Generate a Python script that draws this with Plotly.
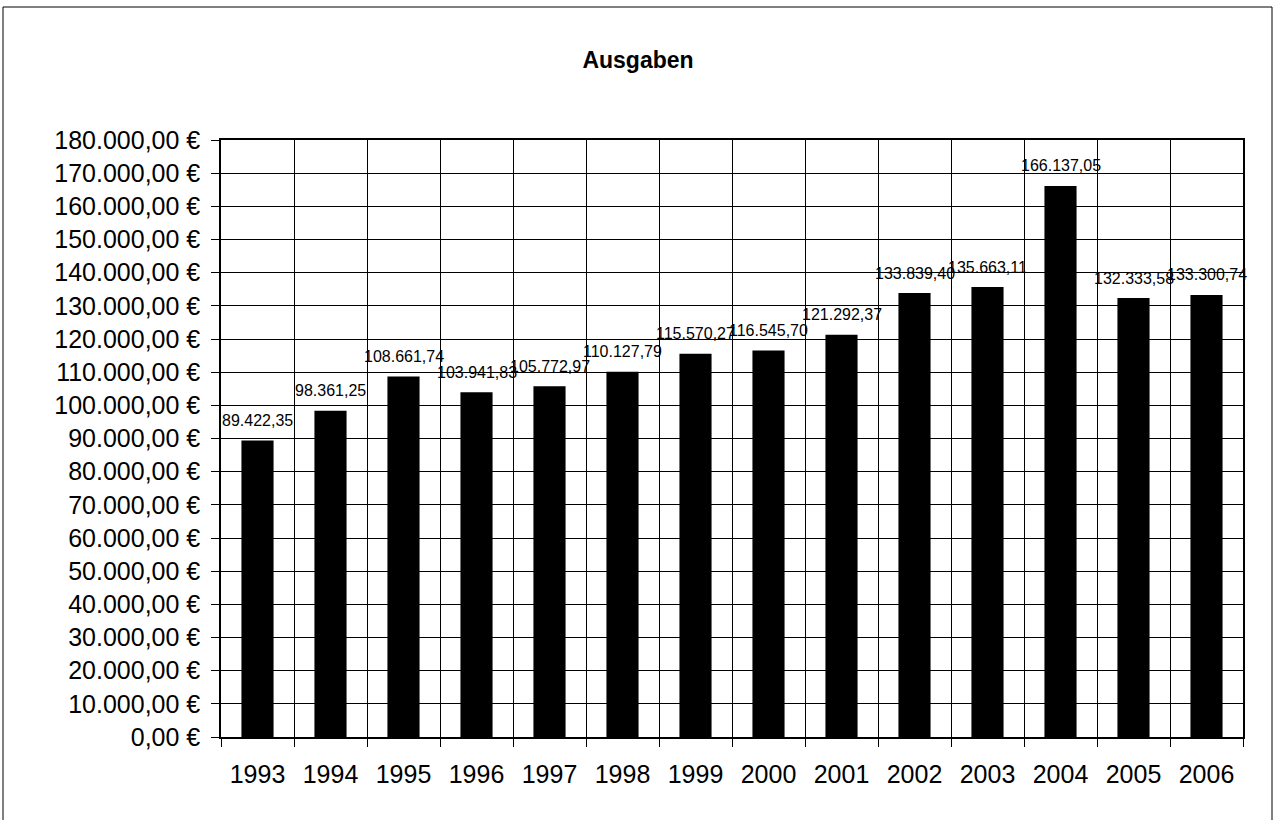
import plotly.graph_objects as go

years = ["1993", "1994", "1995", "1996", "1997", "1998", "1999",
         "2000", "2001", "2002", "2003", "2004", "2005", "2006"]
ausgaben = [89422.35, 98361.25, 108661.74, 103941.83, 105772.97, 110127.79,
            115570.27, 116545.70, 121292.37, 133839.40, 135663.11, 166137.05,
            132333.58, 133300.74]
labels = ["89.422,35", "98.361,25", "108.661,74", "103.941,83", "105.772,97",
          "110.127,79", "115.570,27", "116.545,70", "121.292,37", "133.839,40",
          "135.663,11", "166.137,05", "132.333,58", "133.300,74"]

W, H = 1276, 823
L, R, T, B = 221, 33, 140, 86

fig = go.Figure()
fig.add_trace(go.Bar(x=years, y=ausgaben, marker=dict(color="black", line=dict(width=0)),
                     hoverinfo="x+y"))

for i, (y, t) in enumerate(zip(ausgaben, labels)):
    fig.add_annotation(x=i, y=y, text=t, showarrow=False, yanchor="middle",
                       yshift=20, font=dict(family="Liberation Sans, Arial", size=16, color="black"))

pw = W - L - R
ph = H - T - B
def px(xp):
    return (xp - L) / pw
def py(yp):
    return (H - B - yp) / ph

frame = dict(color="black", width=1)
fig.add_shape(type="line", xref="paper", yref="paper", x0=px(3), x1=px(1272), y0=py(7), y1=py(7), line=frame)
fig.add_shape(type="line", xref="paper", yref="paper", x0=px(3), x1=px(3), y0=py(7), y1=py(820), line=frame)
fig.add_shape(type="line", xref="paper", yref="paper", x0=px(1272), x1=px(1272), y0=py(7), y1=py(820), line=frame)

fig.update_layout(
    width=W, height=H,
    margin=dict(l=L, r=R, t=T, b=B, pad=0),
    paper_bgcolor="white", plot_bgcolor="white",
    separators=",.",
    bargap=0.56,
    showlegend=False,
    font=dict(family="Liberation Sans, Arial", color="black"),
    title=dict(text="<b>Ausgaben</b>", x=0.5, xref="container", xanchor="center",
               y=1 - 60 / H, yanchor="middle", font=dict(size=23, color="black")),
)
fig.update_xaxes(
    type="category", range=[-0.5, len(years) - 0.5], tickson="boundaries",
    ticks="outside", ticklen=8, tickcolor="black", tickangle=0,
    ticklabelstandoff=14,
    showgrid=True, gridcolor="black", gridwidth=1,
    showline=True, linecolor="black", linewidth=1.5, mirror=True,
    tickfont=dict(size=25, color="black"),
)
fig.update_yaxes(
    range=[0, 180000], dtick=10000, tickformat=",.2f", ticksuffix=" €",
    ticks="outside", ticklen=8, tickcolor="black",
    ticklabelstandoff=6,
    showgrid=True, gridcolor="black", gridwidth=1,
    showline=True, linecolor="black", linewidth=1.5, mirror=True,
    tickfont=dict(size=25, color="black"), zeroline=False,
)

fig.write_html("out.html", config={"displayModeBar": False},
               post_script="document.body.style.margin='0';document.body.style.overflow='hidden';")
